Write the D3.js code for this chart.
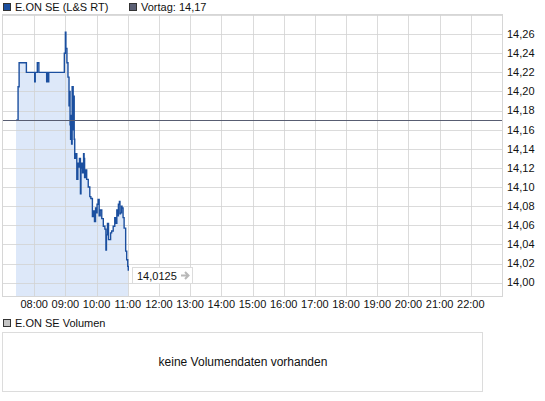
<!DOCTYPE html>
<html>
<head>
<meta charset="utf-8">
<script src="https://cdn.jsdelivr.net/npm/d3@7"></script>
<style>
  body { margin: 0; background: #fff; }
  svg text { font-family: "Liberation Sans", Arial, sans-serif; font-size: 11px; fill: #111; }
</style>
</head>
<body>
<svg id="chart" width="545" height="401"></svg>
<script>
// price ticks, L&S RT, intraday
var times = ["07:25", "07:29", "07:31", "07:45", "08:01", "08:02", "08:06", "08:09", "08:24", "08:25",
    "08:27", "08:28", "08:58", "09:00", "09:01", "09:03", "09:05", "09:07", "09:08", "09:09",
    "09:10", "09:11", "09:12", "09:13", "09:15", "09:16", "09:17", "09:18", "09:20", "09:22",
    "09:24", "09:25", "09:27", "09:29", "09:30", "09:31", "09:33", "09:35", "09:36", "09:37",
    "09:39", "09:41", "09:44", "09:47", "09:49", "09:52", "09:54", "09:56", "09:58", "10:00",
    "10:01", "10:03", "10:05", "10:07", "10:10", "10:13", "10:16", "10:18", "10:19", "10:21",
    "10:23", "10:25", "10:27", "10:29", "10:32", "10:35", "10:37", "10:39", "10:41", "10:42",
    "10:44", "10:45", "10:46", "10:48", "10:49", "10:51", "10:53", "10:56", "10:58", "11:00", "11:01"];
var prices = [14.17, 14.205, 14.23, 14.22, 14.21, 14.22, 14.23, 14.22, 14.21, 14.22,
    14.21, 14.22, 14.24, 14.262, 14.245, 14.23, 14.215, 14.185, 14.20, 14.165,
    14.15, 14.175, 14.145, 14.205, 14.16, 14.195, 14.15, 14.13, 14.135, 14.108,
    14.125, 14.121, 14.13, 14.093, 14.12, 14.125, 14.115, 14.135, 14.13, 14.11,
    14.118, 14.108, 14.10, 14.09, 14.088, 14.069, 14.075, 14.064, 14.078, 14.073,
    14.082, 14.087, 14.07, 14.076, 14.067, 14.059, 14.056, 14.034, 14.05, 14.062,
    14.045, 14.045, 14.052, 14.054, 14.059, 14.068, 14.062, 14.076, 14.07, 14.082,
    14.085, 14.072, 14.073, 14.08, 14.078, 14.068, 14.057, 14.033, 14.024, 14.017, 14.0125];
var prevClose = 14.17;
var lastLabel = "14,0125";
var hourTicks = ["08:00", "09:00", "10:00", "11:00", "12:00", "13:00", "14:00", "15:00",
    "16:00", "17:00", "18:00", "19:00", "20:00", "21:00", "22:00"];
var priceTicks = [14.00, 14.02, 14.04, 14.06, 14.08, 14.10, 14.12, 14.14, 14.16, 14.18,
    14.20, 14.22, 14.24, 14.26, 14.28];

var svg = d3.select("#chart");
var parse = d3.timeParse("%H:%M");
var fmt = function (v) { return d3.format(".2f")(v).replace(".", ","); };

var data = times.map(function (t, i) { return { t: parse(t), v: prices[i] }; });

var x = d3.scaleTime().domain([parse("07:00"), parse("23:00")]).range([3, 502]);
var y = d3.scaleLinear().domain([13.986, 14.28]).range([296, 15]);

// area under the price line
var area = d3.area().curve(d3.curveStepAfter)
    .x(function (d) { return x(d.t); })
    .y0(296)
    .y1(function (d) { return y(d.v); });
svg.append("path").datum(data).attr("d", area).attr("fill", "#dde8f9");

// grid
var grid = svg.append("g").attr("shape-rendering", "crispEdges");
grid.selectAll(".vg").data(hourTicks).enter().append("line")
    .attr("x1", function (d) { return Math.round(x(parse(d))) + 0.5; })
    .attr("x2", function (d) { return Math.round(x(parse(d))) + 0.5; })
    .attr("y1", 15).attr("y2", 296)
    .attr("stroke", "#d2d2d2").attr("stroke-opacity", 0.8);
grid.selectAll(".hg").data(priceTicks).enter().append("line")
    .attr("x1", 3).attr("x2", 502)
    .attr("y1", function (d) { return Math.round(y(d)) + 0.5; })
    .attr("y2", function (d) { return Math.round(y(d)) + 0.5; })
    .attr("stroke", "#d2d2d2").attr("stroke-opacity", 0.8);
grid.append("rect").attr("x", 2.5).attr("y", 14.5).attr("width", 500).attr("height", 281.5)
    .attr("fill", "none").attr("stroke", "#d6d6d6");

svg.append("path").datum(data)
    .attr("d", d3.line().curve(d3.curveStepAfter)
        .x(function (d) { return x(d.t); })
        .y(function (d) { return y(d.v); }))
    .attr("fill", "none").attr("stroke", "#1b4f9f").attr("stroke-width", 1.4);

// previous close
svg.append("line").attr("x1", 3).attr("x2", 502)
    .attr("y1", Math.round(y(prevClose)) + 0.5).attr("y2", Math.round(y(prevClose)) + 0.5)
    .attr("stroke", "#585d72").attr("shape-rendering", "crispEdges");

// axis labels
svg.selectAll(".yl").data(priceTicks.slice(0, 14)).enter().append("text")
    .attr("x", 507).attr("y", function (d) { return y(d); }).attr("dy", "0.35em")
    .text(fmt);
svg.selectAll(".xl").data(hourTicks).enter().append("text")
    .attr("x", function (d) { return x(parse(d)); }).attr("y", 308)
    .attr("text-anchor", "middle")
    .text(function (d) { return d; });

// last price tag
var last = data[data.length - 1];
var tag = svg.append("g").attr("transform", "translate(" + Math.round(x(last.t) + 4) + "," + Math.round(y(last.v) - 4) + ")");
tag.append("rect").attr("x", 0.5).attr("y", 0.5).attr("width", 60).attr("height", 16)
    .attr("fill", "#fff").attr("stroke", "#dcdcdc");
tag.append("text").attr("x", 5).attr("y", 12.5).text(lastLabel);
tag.append("path").attr("d", "M49,8.5 H56 M53,5 L56.5,8.5 L53,12")
    .attr("fill", "none").attr("stroke", "#b8b8b8").attr("stroke-width", 2);

// legend
function legendItem(lx, ly, color, label) {
    svg.append("rect").attr("x", lx + 0.5).attr("y", ly + 0.5).attr("width", 7).attr("height", 7)
        .attr("fill", color).attr("stroke", "#333").attr("shape-rendering", "crispEdges");
    svg.append("text").attr("x", lx + 12).attr("y", ly + 4).attr("dy", "0.35em").text(label);
}
legendItem(3, 3, "#1b4f9f", "E.ON SE (L&S RT)");
legendItem(129, 3, "#5b6075", "Vortag: " + fmt(prevClose));
legendItem(3, 319, "#c4c4c4", "E.ON SE Volumen");

// volume panel
svg.append("rect").attr("x", 2.5).attr("y", 332.5).attr("width", 480).attr("height", 59)
    .attr("fill", "none").attr("stroke", "#dcdcdc").attr("shape-rendering", "crispEdges");
svg.append("text").attr("x", 243).attr("y", 362).attr("dy", "0.35em").attr("text-anchor", "middle")
    .style("font-size", "12px")
    .text("keine Volumendaten vorhanden");
</script>
</body>
</html>
